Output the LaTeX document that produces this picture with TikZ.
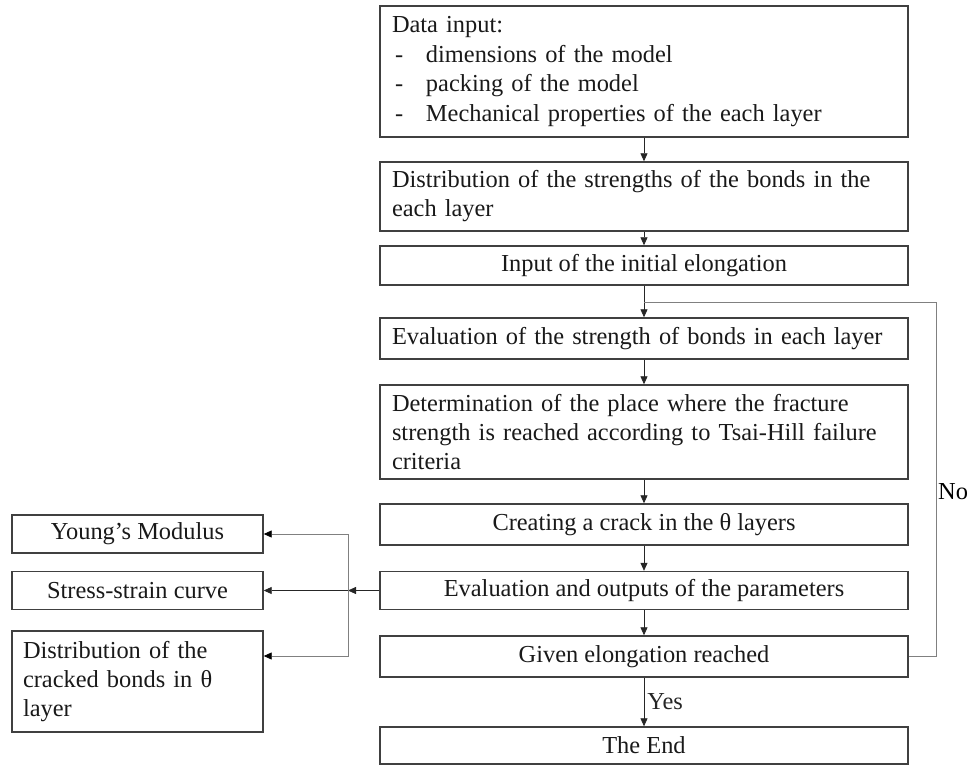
\documentclass[tikz,border=0pt]{standalone}
\usepackage{fontspec}
\setmainfont{Liberation Serif}
\usetikzlibrary{arrows.meta}

\begin{document}
\begin{tikzpicture}[x=1pt,y=-1pt,
  box/.style={draw=black!75, line width=1.4pt, minimum width=528pt,
    inner xsep=12pt, inner ysep=0pt, text=black!90,
    font=\fontsize{24.4}{29}\selectfont},
  side/.style={box, minimum width=251pt, inner xsep=11pt},
  flow/.style={-{Triangle[length=8pt,width=7pt]}, line width=0.8pt, black!85},
  link/.style={line width=0.8pt, black!50}]
\useasboundingbox (0,0) rectangle (968,767);
% main column
\node[box, minimum height=131pt, text width=504pt, align=left,
  font=\fontsize{24.4}{29.7}\selectfont] (input) at (644,71.5)
  {Data input:\\
   \makebox[34pt][l]{\hspace{3pt}-}dimensions of the model\\
   \makebox[34pt][l]{\hspace{3pt}-}packing of the model\\
   \makebox[34pt][l]{\hspace{3pt}-}Mechanical properties of the each layer};
\node[box, minimum height=69pt, text width=504pt, align=left] (dist) at (644,196.5)
  {Distribution of the strengths of the bonds in the\\ each layer};
\node[box, minimum height=39pt] (elong) at (644,265.5) {Input of the initial elongation};
\node[box, minimum height=41pt, text width=504pt, align=left] (evalb) at (644,338.5)
  {Evaluation of the strength of bonds in each layer};
\node[box, minimum height=94pt, text width=504pt, align=left] (place) at (644,432)
  {Determination of the place where the fracture\\ strength is reached according to Tsai-Hill failure\\ criteria};
\node[box, minimum height=41pt] (crack) at (644,524.5) {Creating a crack in the θ layers};
\node[box, minimum height=38pt] (outputs) at (644,590.5) {Evaluation and outputs of the parameters};
\node[box, minimum height=41pt] (given) at (644,656.5) {Given elongation reached};
\node[box, minimum height=37pt] (theend) at (644,745.5) {The End};
% outputs on the left
\node[side, minimum height=38pt] (young) at (137.5,534) {Young’s Modulus};
\node[side, minimum height=38pt] (stress) at (137.5,590.5) {Stress-strain curve};
\node[side, minimum height=101pt, text width=229pt, align=left] (cracked) at (137.5,681.5)
  {Distribution of the\\ cracked bonds in θ\\ layer};
\coordinate (fork) at (348,590.5);
\coordinate (loopr) at (936,302);
\coordinate (loopl) at (644,302);
\node[font=\fontsize{24.4}{29}\selectfont, anchor=west, inner sep=0pt] (no) at (938,492) {No};

\draw[flow] (input) -- (dist);
\draw[flow] (dist) -- (elong);
\draw[flow] (elong) -- (evalb);
\draw[flow] (evalb) -- (place);
\draw[flow] (place) -- (crack);
\draw[flow] (crack) -- (outputs);
\draw[flow] (outputs) -- (given);
\draw[flow] (given) -- node[midway, right, inner xsep=3pt, font=\fontsize{24.4}{29}\selectfont] (yes) {Yes} (theend);
\draw[link] (given.east) -| (loopr) -- (loopl);
\draw[flow] (outputs.west) -- (fork);
\draw[flow] (fork) -- (stress.east);
\draw[link, -{Triangle[length=8pt,width=7pt,black]}] (fork) |- (young.east);
\draw[link, -{Triangle[length=8pt,width=7pt,black]}] (fork) |- ([yshift=25.5pt]cracked.east);
\end{tikzpicture}
\end{document}
